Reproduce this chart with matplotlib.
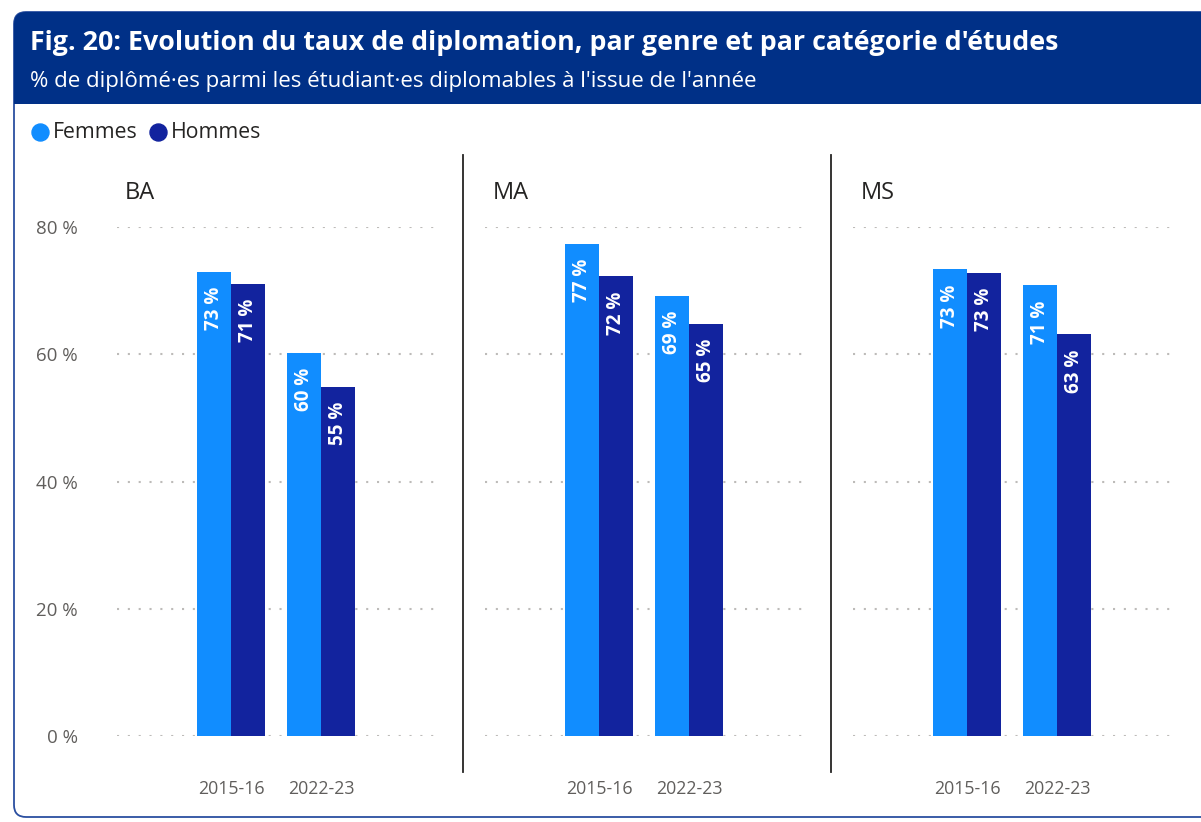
import matplotlib.pyplot as plt
from matplotlib.patches import FancyBboxPatch, Rectangle
import numpy as np

plt.rcParams['font.family'] = ['Open Sans', 'DejaVu Sans']

TITLE = "Fig. 20: Evolution du taux de diplomation, par genre et par catégorie d'études"
SUBTITLE = "% de diplômé·es parmi les étudiant·es diplomables à l'issue de l'année"
CATEGORIES = ["BA", "MA", "MS"]
YEARS = ["2015-16", "2022-23"]
SERIES = ["Femmes", "Hommes"]
femmes = [[73.0, 60.2], [77.4, 69.2], [73.4, 70.9]]
hommes = [[71.1, 54.9], [72.3, 64.8], [72.8, 63.2]]
yticks = [0, 20, 40, 60, 80]

C_F = "#118DFF"
C_H = "#12239E"
GREY = "#605E5C"

W, H = 1201, 822
fig = plt.figure(figsize=(W / 100, H / 100), dpi=100)

bg = fig.add_axes([0, 0, 1, 1])
bg.set_xlim(0, W)
bg.set_ylim(H, 0)
bg.axis("off")

# card + header
bg.add_patch(FancyBboxPatch((14, 12), 1250, 805, boxstyle="round,pad=0,rounding_size=12",
                            fc="white", ec="#2B4FA0", lw=1.3))
bg.add_patch(FancyBboxPatch((14, 12), 1250, 92, boxstyle="round,pad=0,rounding_size=12",
                            fc="#003087", ec="none"))
bg.add_patch(Rectangle((14, 60), 1250, 44, fc="#003087", ec="none"))
bg.text(30, 43, TITLE, color="white", fontsize=19.3, fontweight="bold", va="center")
bg.text(30, 82, SUBTITLE, color="white", fontsize=16, va="center")

# legend
bg.scatter([40], [132], s=150, color=C_F)
bg.text(53, 132, SERIES[0], fontsize=15.3, va="center", color="#252423")
bg.scatter([158], [132], s=150, color=C_H)
bg.text(171, 132, SERIES[1], fontsize=15.3, va="center", color="#252423")

# separators
for xs in [463, 831]:
    bg.plot([xs, xs], [155, 772], color="#252423", lw=1.3)

lefts = [117, 485, 853]
ytop, ybot = 227, 736
spacing = 90.0
bw = 34 / spacing
x = np.arange(len(YEARS))

for i, cat in enumerate(CATEGORIES):
    x0 = lefts[i]
    ax = fig.add_axes([x0 / W, 1 - ybot / H, 322 / W, (ybot - ytop) / H])
    ax.set_xlim(-114 / spacing, 1 + 118 / spacing)
    ax.set_ylim(0, 80)
    ax.hlines(yticks, -114 / spacing, 1 + 118 / spacing, colors="#BDBBB9",
              linestyles=(0, (1, 4.2)), lw=1.5, zorder=0)
    b1 = ax.bar(x - bw / 2, femmes[i], bw, color=C_F, zorder=2)
    b2 = ax.bar(x + bw / 2, hommes[i], bw, color=C_H, zorder=2)
    for bars in (b1, b2):
        for b in bars:
            v = b.get_height()
            ax.text(b.get_x() + b.get_width() / 2, v - 2.4, "%d %%" % round(v),
                    rotation=90, ha="center", va="top", color="white",
                    fontsize=13.5, fontweight="bold", zorder=3)
    for s in ax.spines.values():
        s.set_visible(False)
    ax.set_xticks(x)
    ax.set_xticklabels(YEARS, fontsize=12.8, color=GREY)
    ax.tick_params(axis="x", length=0, pad=32)
    ax.set_yticks(yticks)
    if i == 0:
        ax.set_yticklabels(["%d %%" % t for t in yticks], fontsize=13.5, color=GREY)
        ax.tick_params(axis="y", length=0, pad=28)
    else:
        ax.tick_params(axis="y", length=0, labelleft=False)
    ax.patch.set_alpha(0)
    bg.text(x0 + 8, 193, cat, fontsize=17, color="#252423", va="center")

fig.savefig("out.png", dpi=100)
